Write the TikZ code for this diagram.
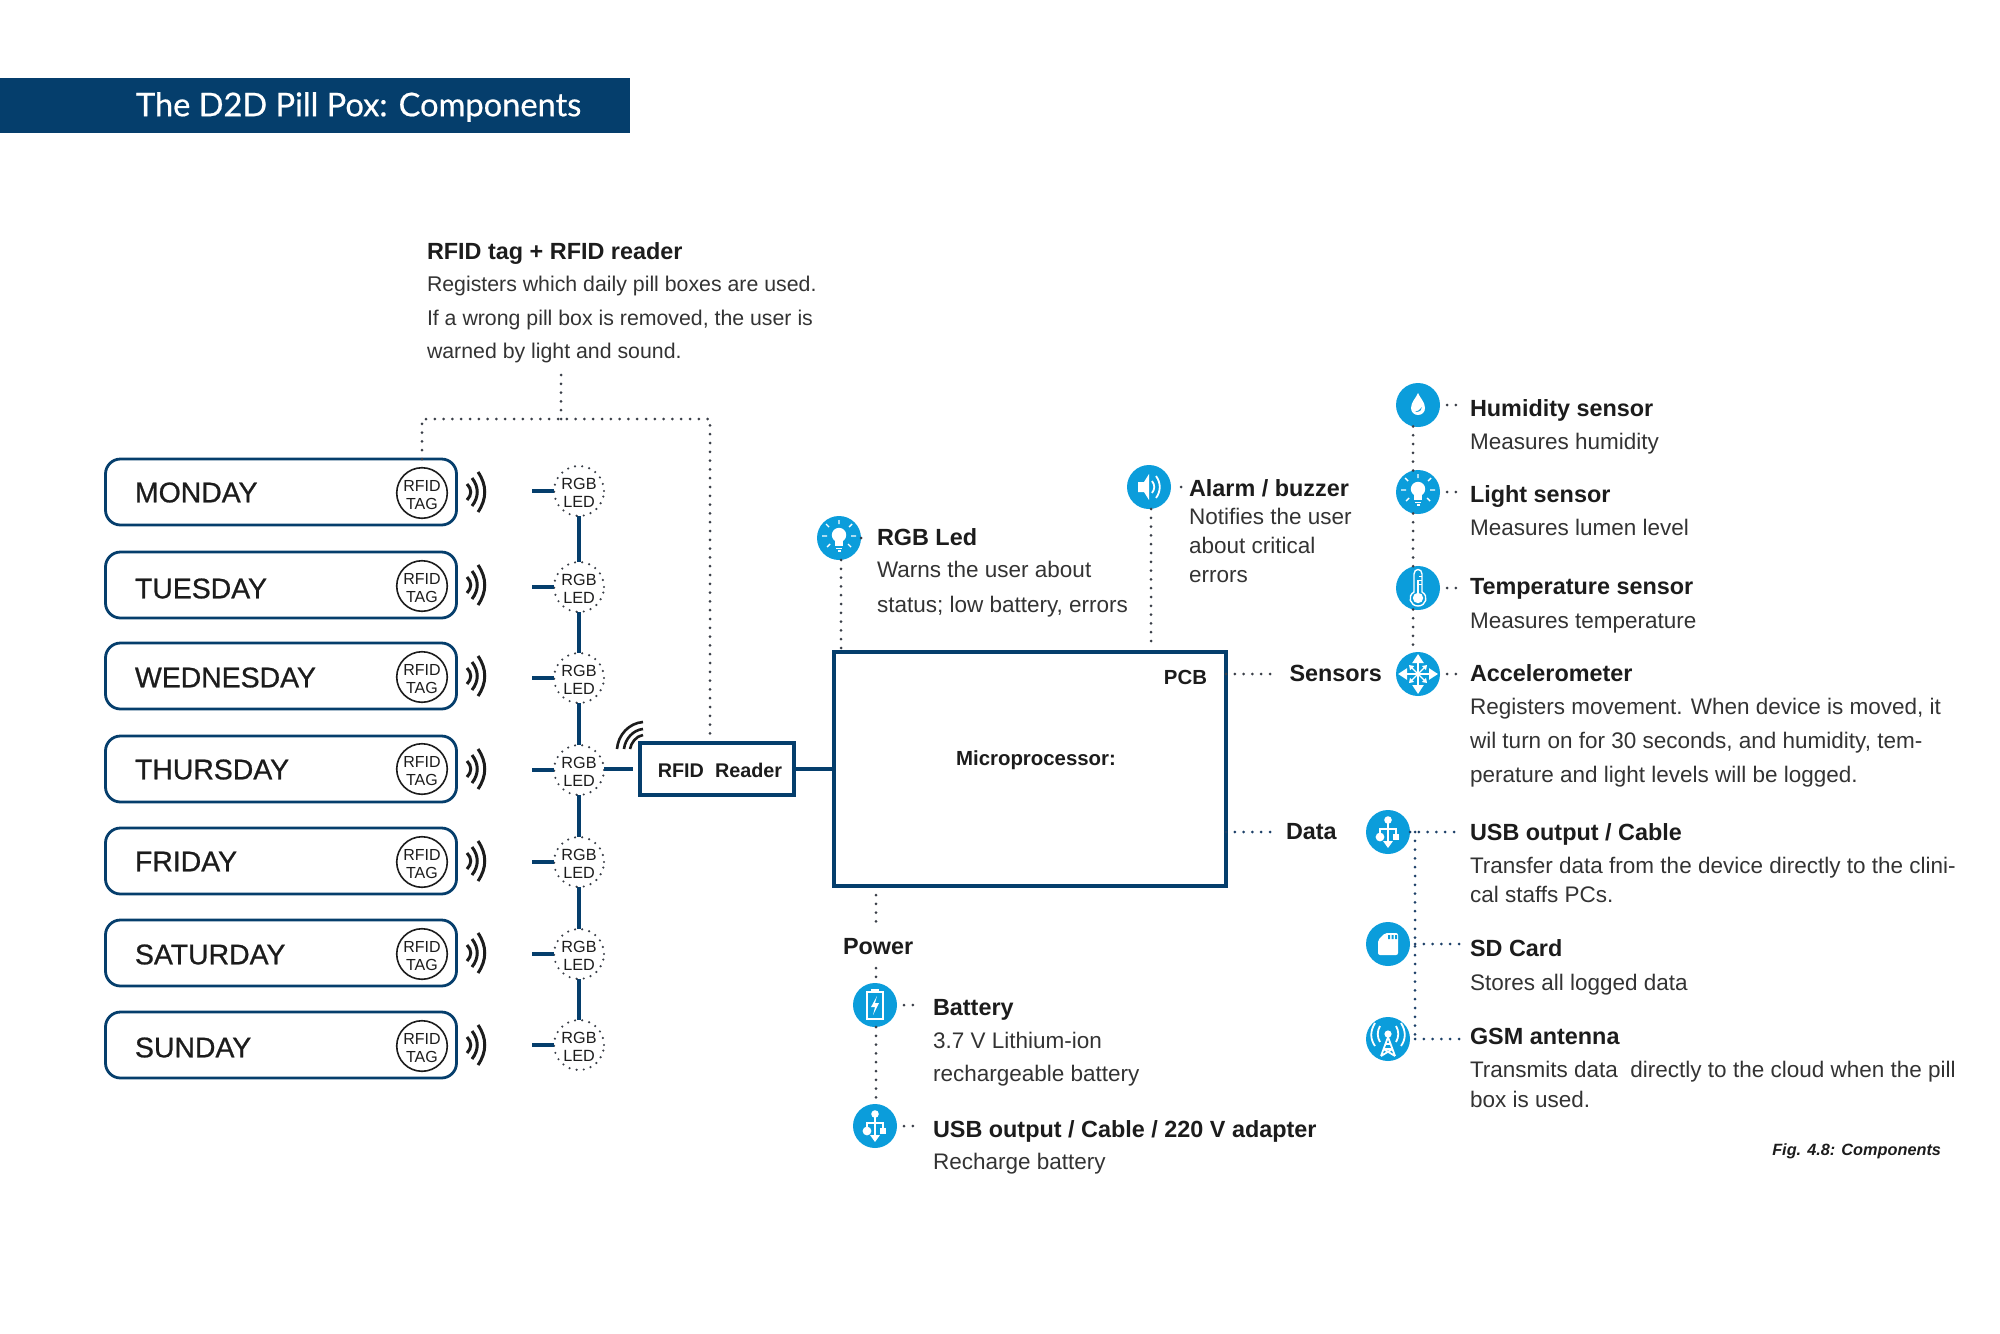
\documentclass[tikz,border=0pt]{standalone}
\usepackage{fontspec}
\setmainfont{Liberation Sans}
\newfontfamily\titlefont[FakeBold=0.6]{Lato}
\newfontfamily\dayfont[FakeBold=0.8]{Liberation Sans}
\usetikzlibrary{arrows.meta}
\definecolor{navy}{HTML}{053E6C}
\definecolor{sky}{HTML}{0B9DDB}
\definecolor{ink}{HTML}{1C1C1C}
\definecolor{body}{HTML}{333333}
\definecolor{dotgray}{HTML}{3A3F48}
\definecolor{dotblue}{HTML}{1D4068}
\tikzset{
  x=0.5pt,y=-0.5pt,
  every node/.style={inner sep=0pt,outer sep=0pt},
  ttl/.style={anchor=west,text=ink,text height=9.5pt,text depth=2.4pt,font=\fontsize{11.7}{14}\selectfont\bfseries},
  dsc/.style={anchor=west,text=body,align=left,font=\fontsize{11.25}{#1}\selectfont},
  dsc/.default=17,
  dsa/.style={anchor=west,text=body,text height=8.3pt,text depth=2.4pt,font=\fontsize{11.25}{14}\selectfont},
  dscs/.style={anchor=west,text=body,align=left,font=\fontsize{10.65}{#1}\selectfont},
  daybox/.style={draw=navy,line width=1.4pt,rounded corners=7.5pt,minimum width=175.5pt,minimum height=33pt},
  dayname/.style={anchor=west,text=ink,font=\fontsize{14.2}{16}\selectfont\dayfont},
  tagc/.style={circle,draw=ink,line width=0.8pt,minimum size=25pt,align=center,text=ink,font=\fontsize{8}{9}\selectfont},
  ledc/.style={circle,draw=dotgray,line width=1.2pt,line cap=round,dash pattern=on 0pt off 3.6pt,minimum size=25pt,align=center,text=ink,font=\fontsize{8.1}{9}\selectfont},
  bline/.style={draw=navy,line width=1.7pt},
  dotl/.style={draw=dotgray,line width=1.5pt,line cap=round,dash pattern=on 0pt off 4.4pt},
  dotb/.style={draw=dotblue,line width=1.5pt,line cap=round,dash pattern=on 0pt off 4.4pt},
  ico/.style={circle,fill=sky,minimum size=22pt},
  wave/.style={draw=ink,line width=1.5pt},
  wl/.style={draw=white,line width=0.7pt},
  icondrop/.pic={
    \fill[white] (0,-12) .. controls (2,-7) and (7,-3) .. (7,3) .. controls (7,7) and (4,10) .. (0,10) .. controls (-4,10) and (-7,7) .. (-7,3) .. controls (-7,-3) and (-2,-7) .. (0,-12) -- cycle;
    \fill[sky] (4,2) .. controls (4,5) and (2,7) .. (-3,7) .. controls (0,6) and (2,5) .. (4,2) -- cycle;
  },
  iconbulb/.pic={
    \fill[white] (0,-3) circle[radius=3.6pt];
    \fill[white] (-4,2) rectangle (4,8);
    \fill[white] (-3,9.5) rectangle (3,11);
    \fill[white] (-1.5,12) rectangle (1.5,14);
    \draw[wl] (0,-14) -- (0,-18) (10,-11) -- (13,-14) (-10,-11) -- (-13,-14) (12,-2) -- (17,-2) (-12,-2) -- (-17,-2) (9,6) -- (12,9) (-9,6) -- (-12,9);
  },
  iconthermo/.pic={
    \draw[wl] (-4,4) -- (-4,-14) .. controls (-4,-20) and (4,-20) .. (4,-14) -- (4,4) .. controls (11,8) and (8,18) .. (0,18) .. controls (-8,18) and (-11,8) .. (-4,4) -- cycle;
    \fill[white] (0,10) circle[radius=2.6pt];
    \fill[white] (-1.2,-8) rectangle (1.2,8);
    \draw[draw=white,line width=0.5pt] (1,-12) -- (4,-12) (1,-8) -- (4,-8) (1,-4) -- (4,-4);
  },
  iconmove/.pic={
    \draw[draw=white,line width=1.2pt,-{Triangle[length=4.5pt,width=5.5pt]}] (0,0) -- (0,-20);
    \draw[draw=white,line width=1.2pt,-{Triangle[length=4.5pt,width=5.5pt]}] (0,0) -- (0,20);
    \draw[draw=white,line width=1.2pt,-{Triangle[length=4.5pt,width=5.5pt]}] (0,0) -- (20,0);
    \draw[draw=white,line width=1.2pt,-{Triangle[length=4.5pt,width=5.5pt]}] (0,0) -- (-20,0);
    \draw[draw=white,line width=0.6pt,-{Triangle[length=2.2pt,width=2.8pt]}] (0,0) -- (9,-9);
    \draw[draw=white,line width=0.6pt,-{Triangle[length=2.2pt,width=2.8pt]}] (0,0) -- (-9,-9);
    \draw[draw=white,line width=0.6pt,-{Triangle[length=2.2pt,width=2.8pt]}] (0,0) -- (9,9);
    \draw[draw=white,line width=0.6pt,-{Triangle[length=2.2pt,width=2.8pt]}] (0,0) -- (-9,9);
  },
  iconusb/.pic={
    \fill[white] (0,-12) circle[radius=1.9pt];
    \draw[draw=white,line width=1.1pt] (0,-12) -- (0,9);
    \fill[white] (-5,9) -- (5,9) -- (0,16) -- cycle;
    \draw[draw=white,line width=1.1pt] (-8,5) -- (-8,-3) -- (8,-3) -- (8,5);
    \fill[white] (-8,5) circle[radius=2.2pt];
    \fill[white] (5,2) rectangle (11,8);
  },
  iconsd/.pic={
    \fill[white,rounded corners=1pt] (-10,-4) -- (-3,-11) -- (10,-11) -- (10,11) -- (-10,11) -- cycle;
    \fill[sky] (0,-9) rectangle (2,-5) (3.5,-9) rectangle (5.5,-5) (7,-9) rectangle (9,-5);
  },
  icongsm/.pic={
    \fill[white] (0,-5) circle[radius=1.8pt];
    \draw[draw=white,line width=0.9pt,line join=round] (-7,17) -- (0,-2) -- (7,17) (-4.5,10) -- (4.5,10) (-3,5) -- (3,5) (-7,17) -- (4.5,10) (7,17) -- (-4.5,10);
    \draw[draw=white,line width=0.9pt] (-8,-13) .. controls (-11,-8) and (-11,-2) .. (-8,3) (8,-13) .. controls (11,-8) and (11,-2) .. (8,3) (-13,-16) .. controls (-18,-8) and (-18,0) .. (-13,7) (13,-16) .. controls (18,-8) and (18,0) .. (13,7);
  },
  iconspeak/.pic={
    \fill[white] (-11,-5) -- (-5,-5) -- (0,-13) -- (0,13) -- (-5,5) -- (-11,5) -- cycle;
    \draw[draw=white,line width=0.9pt] (3,-6) .. controls (6,-2) and (6,2) .. (3,6) (7,-11) .. controls (12,-4) and (12,4) .. (7,11);
  },
  iconbatt/.pic={
    \draw[draw=white,line width=0.6pt] (-8,-13) rectangle (8,14);
    \fill[white] (-4,-16) rectangle (4,-13);
    \fill[white] (2,-9) -- (-4,2) -- (0,2) -- (-2,10) -- (4,-2) -- (0,-2) -- cycle;
  }
}
\begin{document}
\begin{tikzpicture}
\useasboundingbox (0,0) rectangle (2000,1333);
% title
\fill[navy] (0,78) rectangle (630,133);
\node[anchor=west,text=white,font=\fontsize{16.3}{20}\selectfont\titlefont] (title) at (136,107) {The D2D Pill Pox: Components};
% days
\foreach \nm/\lab/\yb/\yd/\yt/\yl in {mon/MONDAY/492/492.5/493/491,tue/TUESDAY/585/588.5/586/587,wed/WEDNESDAY/676/677.5/677/678,thu/THURSDAY/769/769.5/769/770,fri/FRIDAY/861/861.5/862/862,sat/SATURDAY/953/954.5/954/954,sun/SUNDAY/1045/1047.5/1046/1045}{
  \node[daybox] (box\nm) at (281,\yb) {};
  \node[dayname] (day\nm) at (135,\yd) {\lab};
  \node[tagc] (tag\nm) at (422,\yt) {\rule{0pt}{8pt}RFID\\TAG};
  \node[ledc] (led\nm) at (579,\yl) {\rule{0pt}{7.2pt}RGB\\LED};
  \draw[wave] (467,\yb-8) .. controls (472,\yb-3) and (472,\yb+3) .. (467,\yb+8);
  \draw[wave] (472,\yb-14) .. controls (479,\yb-5) and (479,\yb+5) .. (472,\yb+14);
  \draw[wave] (478,\yb-20) .. controls (487,\yb-7) and (487,\yb+7) .. (478,\yb+20);
  \draw[bline] ([xshift=-11pt]led\nm.west) -- (led\nm.west);
}
\draw[bline] (ledmon) -- (ledtue);
\draw[bline] (ledtue) -- (ledwed);
\draw[bline] (ledwed) -- (ledthu);
\draw[bline] (ledthu) -- (ledfri);
\draw[bline] (ledfri) -- (ledsat);
\draw[bline] (ledsat) -- (ledsun);
% reader + pcb
\node[draw=navy,line width=1.6pt,minimum width=77pt,minimum height=26pt,text=ink,font=\fontsize{9.9}{12}\selectfont\bfseries] (reader) at (717,769) {\rule{0pt}{8.4pt}\hspace{3pt}RFID\ \ Reader};
\node[draw=navy,line width=1.6pt,minimum width=196pt,minimum height=117pt] (pcb) at (1030,769) {};
\node[text=ink,font=\fontsize{10.2}{12}\selectfont\bfseries] (micro) at (1036,760) {Microprocessor:};
\node[anchor=east,text=ink,font=\fontsize{10.2}{12}\selectfont\bfseries] (pcbl) at (1207,677) {PCB};
\draw[bline] (ledthu.east |- reader.west) -- ([xshift=-3.5pt]reader.west);
\draw[bline] (reader) -- (pcb);
\draw[wave,line width=1.3pt] (617,749) .. controls (618,735) and (629,723) .. (643,722);
\draw[wave,line width=1.3pt] (624,749) .. controls (625,739) and (633,730) .. (643,729);
\draw[wave,line width=1.3pt] (630,749) .. controls (631,743) and (636,736) .. (643,735);
% RFID text
\node[ttl] (rfidt) at (427,252) {RFID tag + RFID reader};
\node[dscs=16.6] (rfidd) at (427,319.6) {Registers which daily pill boxes are used.\\If a wrong pill box is removed, the user is\\warned by light and sound.};
\coordinate (jm) at (561,419);
\coordinate (jl) at (422,419);
\coordinate (jr) at (710,419);
\draw[dotl] (561,375) -- (jm);
\draw[dotl] (boxmon.north -| jl) -- (jl) -- (jr) -- ([yshift=2.5pt]reader.north -| jr);
% RGB led
\node[ico] (rgb) at (839,538) {};
\pic at (rgb) {iconbulb};
\node[ttl] (rgbt) at (877,538) {RGB Led};
\node[dsc=17.2] (rgbd) at (877,589) {Warns the user about\\status; low battery, errors};
\draw[dotl] ([xshift=1pt]rgb.south) -- ([xshift=1pt,yshift=1.5pt]rgb.south |- pcb.north);
\draw[dotl] (rgb.east) -- ([xshift=0.5pt]rgb.east);
% Alarm
\node[ico] (alarm) at (1149,487) {};
\pic at (alarm) {iconspeak};
\node[ttl] (alarmt) at (1189,489) {Alarm / buzzer};
\node[dsc=14.7] (alarmd) at (1189,545.5) {Notifies the user\\about critical\\errors};
\draw[dotl] ([xshift=1pt]alarm.south) -- ([xshift=1pt,yshift=1.5pt]alarm.south |- pcb.north);
\draw[dotl] ([xshift=5pt]alarm.east) -- ([xshift=5.5pt]alarm.east);
% sensors
\node[ttl] (sens) at (1289.5,674) {Sensors};
\draw[dotl] (pcb.east |- sens) -- ([xshift=-8pt]sens.west);
\node[ico] (hum) at (1418,405) {};
\pic at (hum) {icondrop};
\node[ico] (lig) at (1418,492) {};
\pic at (lig) {iconbulb};
\node[ico] (tem) at (1418,588) {};
\pic at (tem) {iconthermo};
\node[ico] (acc) at (1418,674) {};
\pic at (acc) {iconmove};
\draw[dotl] (hum.-103) -- (lig.103);
\draw[dotl] (lig.-103) -- (tem.103);
\draw[dotl] (tem.-103) -- (acc.103);
\foreach \a in {hum,lig,tem,acc}{\draw[dotl] ([xshift=3.5pt]\a.east) -- ([xshift=9pt]\a.east);}
\node[ttl] (humt) at (1470,409) {Humidity sensor};
\node[dsa] (humd) at (1470,444) {Measures humidity};
\node[ttl] (ligt) at (1470,495) {Light sensor};
\node[dsa] (ligd) at (1470,530) {Measures lumen level};
\node[ttl] (temt) at (1470,587) {Temperature sensor};
\node[dsa] (temd) at (1470,623) {Measures temperature};
\node[ttl] (acct) at (1470,674) {Accelerometer};
\node[dsc=16.9] (accd) at (1470,742.5) {Registers movement. When device is moved, it\\wil turn on for 30 seconds, and humidity, tem-\\perature and light levels will be logged.};
% data
\node[ttl] (data) at (1286,832) {Data};
\draw[dotb] (pcb.east |- data) -- ([xshift=-6pt]data.west);
\node[ico] (usb) at (1388,832) {};
\pic at (usb) {iconusb};
\node[ico] (sdc) at (1388,944) {};
\pic at (sdc) {iconsd};
\node[ico] (gsm) at (1388,1039) {};
\pic at (gsm) {icongsm};
\coordinate (dv1) at (1415,832);
\coordinate (dv2) at (1415,944);
\coordinate (dv3) at (1415,1039);
\draw[dotb] (dv1) -- (dv3);
\draw[dotb] (usb.east) -- ([xshift=26pt]usb.east);
\draw[dotb] (dv2) -- ([xshift=23pt]dv2);
\draw[dotb] (dv3) -- ([xshift=23pt]dv3);
\node[ttl] (usbt) at (1470,833.6) {USB output / Cable};
\node[dsc=14.7] (usbd) at (1470,880.2) {Transfer data from the device directly to the clini-\\cal staffs PCs.};
\node[ttl] (sdct) at (1470,949.7) {SD Card};
\node[dsa] (sdcd) at (1470,985) {Stores all logged data};
\node[ttl] (gsmt) at (1470,1037.7) {GSM antenna};
\node[dsc=14.7] (gsmd) at (1470,1084.3) {Transmits data\ \ directly to the cloud when the pill\\box is used.};
% power
\node[ttl] (power) at (843,947) {Power};
\node[ico] (bat) at (875,1005) {};
\pic at (bat) {iconbatt};
\node[ico] (usp) at (875,1126) {};
\pic at (usp) {iconusb};
\draw[dotl] (876,895) -- (876,930);
\draw[dotl] (876,968) -- ([xshift=0.5pt]bat.north);
\draw[dotl] ([xshift=0.5pt]bat.south) -- ([xshift=0.5pt]usp.north);
\draw[dotl] ([xshift=3.5pt]bat.east) -- ([xshift=10pt]bat.east);
\draw[dotl] ([xshift=3.5pt]usp.east) -- ([xshift=10pt]usp.east);
\node[ttl] (batt) at (933,1008) {Battery};
\node[dsc=16.6] (batd) at (933,1059) {3.7 V Lithium-ion\\rechargeable battery};
\node[ttl] (uspt) at (933,1130.8) {USB output / Cable / 220 V adapter};
\node[dsa] (uspd) at (933,1164) {Recharge battery};
% caption
\node[anchor=east,text=ink,font=\fontsize{8.15}{10}\selectfont\bfseries\itshape] (cap) at (1941,1151) {Fig. 4.8: Components};
\end{tikzpicture}
\end{document}
